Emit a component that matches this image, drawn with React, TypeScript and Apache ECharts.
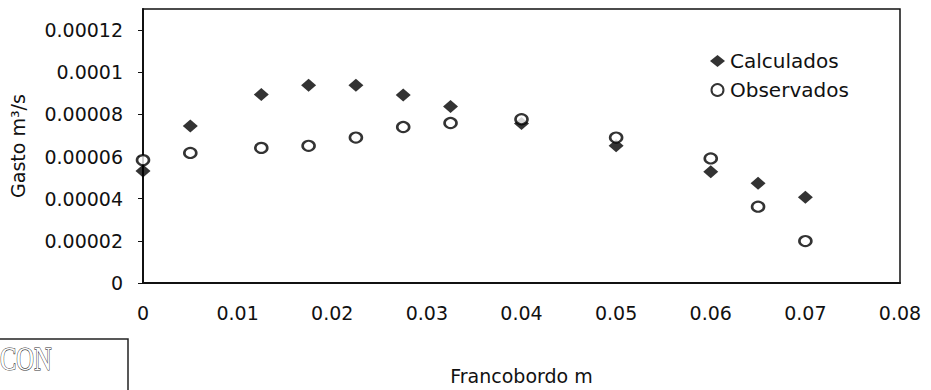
import React, { useEffect, useRef } from "react";
import * as echarts from "echarts";

const francobordo = [0, 0.005, 0.0125, 0.0175, 0.0225, 0.0275, 0.0325, 0.04, 0.05, 0.06, 0.065, 0.07];
const calculados = [5.31e-5, 7.45e-5, 8.94e-5, 9.38e-5, 9.38e-5, 8.92e-5, 8.38e-5, 7.57e-5, 6.51e-5, 5.28e-5, 4.73e-5, 4.07e-5];
const observados = [5.83e-5, 6.17e-5, 6.41e-5, 6.51e-5, 6.9e-5, 7.4e-5, 7.59e-5, 7.77e-5, 6.9e-5, 5.91e-5, 3.62e-5, 1.99e-5];
const seriesNames = ["Calculados", "Observados"];
const xAxisTitle = "Francobordo m";
const yAxisTitle = "Gasto m³/s";

const FONT = "DejaVu Sans";
const fmt = (v: number) => String(+Number(v).toPrecision(6));

export default function App() {
  const ref = useRef<HTMLDivElement>(null);
  useEffect(() => {
    if (!ref.current) return;
    const chart = echarts.init(ref.current, null, { renderer: "svg" });
    chart.setOption({
      animation: false,
      backgroundColor: "#ffffff",
      textStyle: { fontFamily: FONT, color: "#111" },
      grid: {
        left: 143,
        right: 31,
        top: 9,
        bottom: 107,
        containLabel: false,
        outerBoundsMode: "none",
        show: true,
        borderColor: "#111",
        borderWidth: 1.5,
        backgroundColor: "transparent",
      },
      legend: {
        orient: "vertical",
        left: 705,
        top: 46,
        itemWidth: 15,
        itemHeight: 12,
        itemGap: 9,
        textStyle: { fontFamily: FONT, fontSize: 20, color: "#111" },
        data: [
          { name: seriesNames[0], icon: "diamond" },
          { name: seriesNames[1], icon: "circle" },
        ],
      },
      xAxis: {
        type: "value",
        min: 0,
        max: 0.08,
        interval: 0.01,
        name: xAxisTitle,
        nameLocation: "middle",
        nameGap: 83,
        nameTextStyle: { fontFamily: FONT, fontSize: 19, color: "#111" },
        axisLine: { show: true, lineStyle: { color: "#111", width: 2 } },
        axisTick: { show: false },
        splitLine: { show: false },
        axisLabel: {
          margin: 20,
          fontFamily: FONT,
          fontSize: 19,
          color: "#111",
          formatter: fmt,
        },
      },
      yAxis: {
        type: "value",
        min: 0,
        max: 0.00013,
        interval: 0.00002,
        name: yAxisTitle,
        nameLocation: "middle",
        nameRotate: 90,
        nameGap: 116,
        nameTextStyle: { fontFamily: FONT, fontSize: 19, color: "#111" },
        axisLine: { show: true, lineStyle: { color: "#111", width: 2 } },
        axisTick: { show: true, length: 5, lineStyle: { color: "#111" } },
        splitLine: { show: false },
        axisLabel: {
          margin: 20,
          showMaxLabel: false,
          fontFamily: FONT,
          fontSize: 19,
          color: "#111",
          formatter: fmt,
        },
      },
      series: [
        {
          name: seriesNames[0],
          type: "scatter",
          symbol: "diamond",
          symbolSize: [15, 13],
          itemStyle: { color: "#000" },
          data: francobordo.map((x, i) => [x, calculados[i]]),
          z: 2,
        },
        {
          name: seriesNames[1],
          type: "scatter",
          symbol: "circle",
          symbolSize: [12, 10],
          itemStyle: { color: "#fff", borderColor: "#000", borderWidth: 2.4 },
          data: francobordo.map((x, i) => [x, observados[i]]),
          z: 3,
        },
      ],
      graphic: [
        {
          type: "rect",
          shape: { x: -2, y: 339, width: 130, height: 60 },
          style: { fill: "transparent", stroke: "#222", lineWidth: 1.5 },
        },
        {
          type: "text",
          x: 0,
          y: 342,
          scaleX: 0.72,
          style: {
            text: "CON",
            fontFamily: "Liberation Serif",
            fontSize: 34,
            fill: "#fff",
            stroke: "#333",
            lineWidth: 1.2,
          },
        },
      ],
    });
    return () => chart.dispose();
  }, []);
  return (
    <div
      ref={ref}
      style={{ position: "fixed", left: 0, top: 0, width: 931, height: 390 }}
    />
  );
}
